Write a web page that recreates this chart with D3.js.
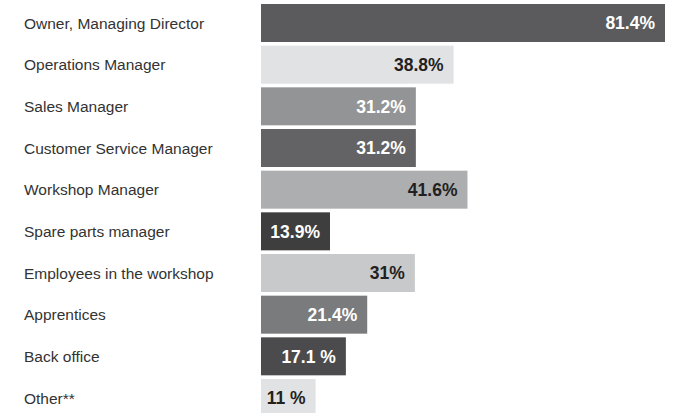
<!DOCTYPE html>
<html>
<head>
<meta charset="utf-8">
<script src="https://cdn.jsdelivr.net/npm/d3@7"></script>
<style>
    body { margin: 0; background: #fff; }
    .cat { font-family: "Liberation Sans", Arial, sans-serif; font-size: 15.5px; fill: #333; }
    .val { font-family: "Liberation Sans", Arial, sans-serif; font-size: 17.5px; font-weight: bold; }
</style>
</head>
<body>
<div id="chart"></div>
<script>
// data
var categories = [
    "Owner, Managing Director",
    "Operations Manager",
    "Sales Manager",
    "Customer Service Manager",
    "Workshop Manager",
    "Spare parts manager",
    "Employees in the workshop",
    "Apprentices",
    "Back office",
    "Other**"
];
var values = [81.4, 38.8, 31.2, 31.2, 41.6, 13.9, 31, 21.4, 17.1, 11];
var valueLabels = ["81.4%", "38.8%", "31.2%", "31.2%", "41.6%", "13.9%", "31%", "21.4%", "17.1 %", "11 %"];

// bar fills, one per row
var barColors = ["#5b5b5d", "#e1e2e3", "#939496", "#636365", "#adaeb0",
                 "#3e3e3f", "#c8c9cb", "#7a7b7d", "#4b4b4d", "#e1e2e3"];

var svgWidth = 673;
var svgHeight = 413;

var svg = d3.select("#chart")
    .append("svg")
    .attr("width", svgWidth)
    .attr("height", svgHeight);

var rows = categories.map((c, i) => ({ cat: c, value: values[i], label: valueLabels[i], color: barColors[i] }));

// scales
var x = d3.scaleLinear()
    .domain([0, 81.4])
    .range([261, 665]);

var y = d3.scaleBand()
    .domain(categories)
    .range([4, 417])
    .paddingInner(0.088)
    .paddingOuter(0);

// category labels on the left
svg.append("g")
    .selectAll("text")
    .data(rows)
    .enter()
    .append("text")
    .classed("cat", true)
    .attr("x", 24)
    .attr("y", d => y(d.cat) + y.bandwidth() / 2)
    .attr("dy", "0.36em")
    .text(d => d.cat);

var barGroup = svg.append("g")
    .selectAll("g")
    .data(rows)
    .enter()
    .append("g");

barGroup.append("rect")
    .attr("x", x(0))
    .attr("y", d => y(d.cat))
    .attr("width", d => x(d.value) - x(0))
    .attr("height", y.bandwidth())
    .attr("fill", d => d.color);

// value labels, white on dark bars, near-black on light ones
barGroup.append("text")
    .classed("val", true)
    .attr("x", d => x(d.value) - 10)
    .attr("y", d => y(d.cat) + y.bandwidth() / 2)
    .attr("dy", "0.36em")
    .attr("text-anchor", "end")
    .attr("fill", d => d3.hsl(d.color).l > 0.62 ? "#231f20" : "#fff")
    .text(d => d.label);
</script>
</body>
</html>
